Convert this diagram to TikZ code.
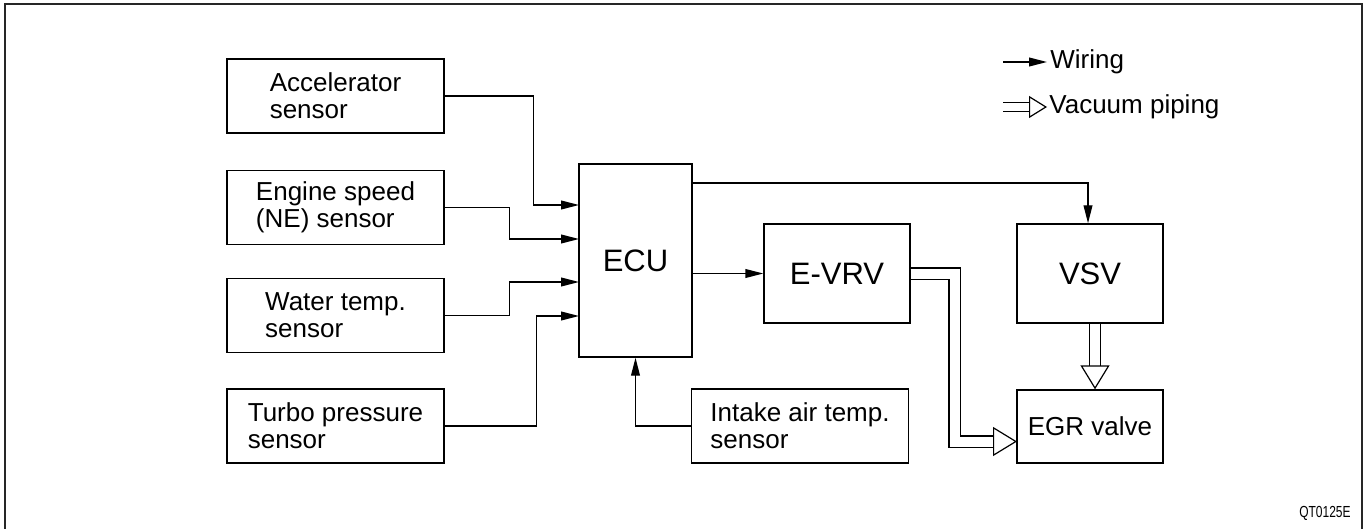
\documentclass[tikz,border=0pt]{standalone}
\usepackage{fontspec}
\setmainfont{Liberation Sans}
\usetikzlibrary{calc,arrows.meta}

\begin{document}
\begin{tikzpicture}[x=0.5pt, y=-0.5pt,
		box/.style={draw, line width=0.7pt, align=left, inner sep=0pt, font=\fontsize{13}{13.6}\selectfont},
		sensor/.style={box, minimum width=108.5pt, minimum height=37pt},
		unit/.style={draw, line width=0.7pt, inner sep=0pt, minimum width=73pt, minimum height=49.5pt, font=\fontsize{15.5}{16}\selectfont},
		wire/.style={line width=0.7pt, -{Triangle[length=9pt,width=4.4pt]}},
		pipe/.style={line width=0.6pt, double=white, double distance=5pt, -{Triangle[open,length=12pt,width=14.5pt]}}]
	\useasboundingbox (0,0) rectangle (1369,529);
	\draw[line width=1pt, black!85] (5,540) -- (5,4) -- (1362,4) -- (1362,540);
	% sensors
	\node[sensor] (acc) at (335.5,96) {Accelerator\\sensor};
	\node[sensor] (eng) at (335.5,207.5) {Engine speed\\(NE) sensor};
	\node[sensor] (wat) at (335.5,315.5) {Water temp.\\sensor};
	\node[sensor] (tur) at (335.5,426) {Turbo pressure\\sensor};
	\node[sensor] (int) at (800,426) {Intake air temp.\\sensor};
	% units
	\node[unit, minimum width=56.5pt, minimum height=96.5pt] (ecu) at (635.5,260.5) {ECU};
	\node[unit] (evrv) at (837,273.5) {E-VRV};
	\node[unit] (vsv) at (1090,273.5) {VSV};
	\node[box, minimum width=73pt, minimum height=36.5pt] (egr) at (1090,426.5) {EGR valve};
	\coordinate (in1) at (579,205);
	\coordinate (in2) at (579,239);
	\coordinate (in3) at (579,282);
	\coordinate (in4) at (579,316);
	\coordinate (egrin) at (1017,441.5);
	% wiring
	\draw[wire] (acc.east) -- ++(89,0) |- (in1);
	\draw[wire] (eng.east) -- ++(65,0) |- (in2);
	\draw[wire] (wat.east) -- ++(65,0) |- (in3);
	\draw[wire] (tur.east) -- ++(92,0) |- (in4);
	\draw[wire] (int.west) -| (ecu.south);
	\draw[wire] (ecu.east |- evrv.west) -- (evrv.west);
	\draw[wire] (ecu.east |- 0,183) -| ([xshift=-1pt]vsv.north);
	% vacuum piping
	\draw[pipe] (evrv.east) -- (954.5,273.5) -- (954.5,441.5) -- (egrin);
	\draw[pipe] ([xshift=2.5pt]vsv.south) -- ([xshift=2.5pt]egr.north);
	% legend
	\coordinate (lw) at (1003,62);
	\coordinate (lp) at (1003,107);
	\node[anchor=west, inner sep=0pt, font=\fontsize{13}{13.6}\selectfont] (lwt) at (1050,62) {Wiring};
	\node[anchor=west, inner sep=0pt, font=\fontsize{13}{13.6}\selectfont] (lpt) at (1049,107) {Vacuum piping};
	\draw[wire] (lw) -- ([xshift=-1.5pt]lwt.west);
	\draw[pipe, double distance=4pt, -{Triangle[open,length=9pt,width=11pt]}] (lp) -- ([xshift=-1pt]lpt.west);
	\node[anchor=base east, inner sep=0pt, font=\fontsize{8}{8}\selectfont] (code) at (1351,517) {\scalebox{0.75}[1]{QT0125E}};
\end{tikzpicture}
\end{document}
